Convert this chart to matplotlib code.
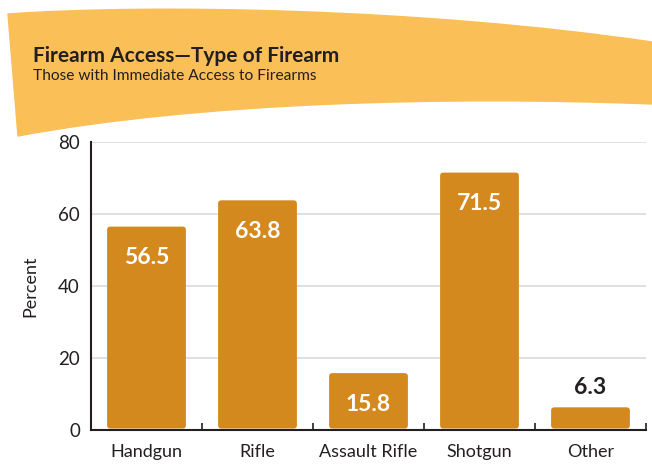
import matplotlib
matplotlib.use("Agg")
import matplotlib.pyplot as plt
from matplotlib.patches import FancyBboxPatch, PathPatch
from matplotlib.path import Path

categories = ["Handgun", "Rifle", "Assault Rifle", "Shotgun", "Other"]
values = [56.5, 63.8, 15.8, 71.5, 6.3]
yticks = [0, 20, 40, 60, 80]

W, H = 652, 471
plt.rcParams["font.family"] = ["Lato", "DejaVu Sans"]
fig = plt.figure(figsize=(W / 100, H / 100), dpi=100)

def px(x, y):
    return (x / W, 1 - y / H)

# curved banner behind the title
verts = [
    px(8, 14),
    px(150, 4), px(420, 8), px(652, 42),
    px(652, 104),
    px(450, 96), px(200, 102), px(18, 136),
    px(8, 14),
]
codes = [Path.MOVETO, Path.CURVE4, Path.CURVE4, Path.CURVE4, Path.LINETO,
         Path.CURVE4, Path.CURVE4, Path.CURVE4, Path.CLOSEPOLY]
banner = PathPatch(Path(verts, codes), transform=fig.transFigure,
                   facecolor="#FBBF57", edgecolor="#FBBF57", lw=1, joinstyle="round")
fig.patches.append(banner)

fig.text(33 / W, 1 - 62 / H, "Firearm Access\u2014Type of Firearm", fontsize=15,
         fontweight="bold", color="#231F20", va="baseline")
fig.text(33 / W, 1 - 80 / H, "Those with Immediate Access to Firearms", fontsize=11.2,
         color="#231F20", va="baseline")

left, right, top, bottom = 91, 646, 142, 430
ax = fig.add_axes([left / W, 1 - bottom / H, (right - left) / W, (bottom - top) / H])
n = len(categories)
ax.set_xlim(0, n)
ax.set_ylim(0, 80)

bar_w = 0.71
bar_color = "#D4891F"
aspect = (80 / (bottom - top)) / (n / (right - left))
for i, v in enumerate(values):
    x0 = i + (1 - bar_w) / 2
    p = FancyBboxPatch((x0, 0.4), bar_w, v - 0.4,
                       boxstyle="round,pad=0,rounding_size=0.03",
                       mutation_aspect=aspect, facecolor=bar_color,
                       edgecolor="none", zorder=3)
    ax.add_patch(p)
    if v > 12:
        ax.text(i + 0.5, v - 8.6, f"{v}", ha="center", va="center",
                fontsize=16.5, fontweight="bold", color="white", zorder=4)
    else:
        ax.text(i + 0.5, v + 5.4, f"{v}", ha="center", va="center",
                fontsize=16.5, fontweight="bold", color="#231F20", zorder=4)

ax.set_yticks(yticks)
ax.set_yticklabels([str(t) for t in yticks], fontsize=13.5, color="#231F20")
ax.yaxis.grid(True, color="#DADADA", lw=1.2)
ax.set_axisbelow(True)
ax.tick_params(axis="y", length=0, pad=8)

ax.set_xticks([i + 0.5 for i in range(n)])
ax.set_xticklabels(categories, fontsize=13, color="#231F20")
ax.tick_params(axis="x", length=0, pad=10)
ax.set_xticks(list(range(n + 1)), minor=True)
ax.tick_params(axis="x", which="minor", direction="in", length=5, width=1.2, color="#231F20")

ax.set_ylabel("Percent", fontsize=13, color="#231F20", labelpad=14)

for s in ["top", "right"]:
    ax.spines[s].set_visible(False)
for s in ["left", "bottom"]:
    ax.spines[s].set_color("#231F20")
    ax.spines[s].set_linewidth(1.5)

fig.savefig("out.png", dpi=100)
